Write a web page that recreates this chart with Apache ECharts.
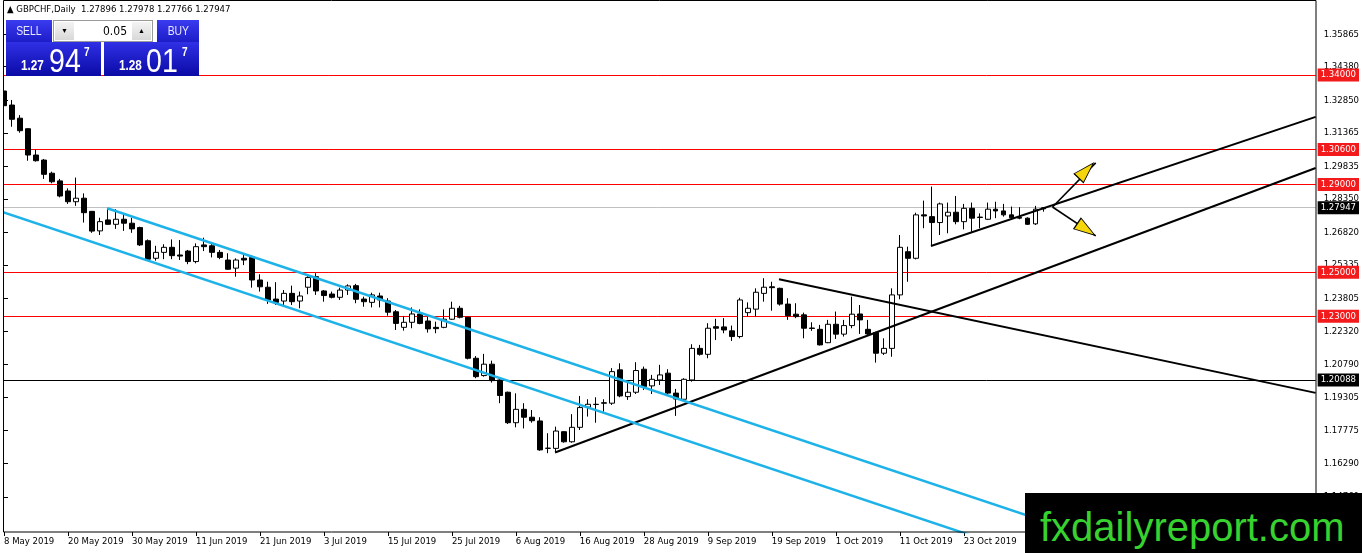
<!DOCTYPE html>
<html>
<head>
<meta charset="utf-8">
<script src="https://cdn.jsdelivr.net/npm/echarts@6.0.0/dist/echarts.min.js"></script>
<style>
  html, body { margin: 0; padding: 0; background: #fff; }
  #wrap { position: relative; width: 1362px; height: 553px; overflow: hidden; }
  #chart { position: absolute; left: 0; top: 0; width: 1362px; height: 553px; }
  .ov { position: absolute; font-family: "Liberation Sans", Arial, sans-serif; white-space: nowrap; }
  .nar { display: inline-block; transform: scaleX(0.8); transform-origin: 50% 0; }
  #head { left: 7px; top: 3px; font: 9.5px "DejaVu Sans Condensed", "DejaVu Sans", sans-serif; color: #000; line-height: 12px; }
  .btn { background: linear-gradient(#3b3bf0, #1c1cc8); color: #e8e8ff; font-size: 13px; text-align: center; line-height: 22px; height: 22px; top: 20px; }
  .price { top: 42px; width: 95px; height: 34px; background: linear-gradient(#3030e6, #0a0aa6); color: #fff; }
  .price span { position: absolute; line-height: 1; transform: scaleX(0.84); transform-origin: 0 0; }
  .lot { left: 53px; top: 20px; width: 100px; height: 22px; background: #fff; border: 1px solid #9a9a9a; box-sizing: border-box; }
  .arr { position: absolute; top: 1px; width: 19px; height: 18px; background: linear-gradient(#f4f4f4, #d8d8d8); font-size: 7px; text-align: center; line-height: 18px; color: #000; }
  #wm { left: 1025px; top: 493px; width: 337px; height: 60px; background: #000; }
  #wm span { position: absolute; left: 15px; top: 14px; font: 40px "Liberation Sans", Arial, sans-serif; line-height: 40px; color: #37d22f; }
</style>
</head>
<body>
<div id="wrap">
  <div id="chart"></div>
  <div class="ov" id="head">&#9650; GBPCHF,Daily&nbsp; 1.27896 1.27978 1.27766 1.27947</div>
  <div class="ov btn" style="left:6px;width:46px;"><span class="nar">SELL</span></div>
  <div class="ov lot">
    <div class="arr" style="left:1px;">&#9660;</div>
    <span style="position:absolute;right:25px;top:3px;font:12px 'DejaVu Sans Condensed','DejaVu Sans',sans-serif;">0.05</span>
    <div class="arr" style="right:1px;">&#9650;</div>
  </div>
  <div class="ov btn" style="left:157px;width:42px;"><span class="nar">BUY</span></div>
  <div class="ov price" style="left:6px;">
    <span style="left:15px;top:16px;font-size:14px;font-weight:bold;">1.27</span>
    <span style="left:43px;top:1px;font-size:34px;">94</span>
    <span style="left:78px;top:4px;font-size:12px;font-weight:bold;">7</span>
  </div>
  <div class="ov price" style="left:104px;">
    <span style="left:15px;top:16px;font-size:14px;font-weight:bold;">1.28</span>
    <span style="left:42px;top:1px;font-size:34px;">01</span>
    <span style="left:78px;top:4px;font-size:12px;font-weight:bold;">7</span>
  </div>
  <div class="ov" id="wm"><span>fxdailyreport.com</span></div>
</div>
<script>
// GBPCHF daily, one value per bar (index 0 = 8 May 2019)
var opens = [1.3327,1.3263,1.3203,1.3155,1.3035,1.3012,1.2952,1.2917,1.2871,1.2822,
  1.2838,1.2778,1.2689,1.2739,1.2719,1.2742,1.2724,1.2704,1.2644,1.2564,
  1.2591,1.2614,1.2579,1.2597,1.2549,1.2625,1.2621,1.2591,1.2556,1.2519,
  1.2564,1.2568,1.2465,1.2432,1.2378,1.2369,1.2404,1.2369,1.2432,1.2480,
  1.2415,1.2401,1.2386,1.2419,1.2439,1.2378,1.2363,1.2392,1.2369,1.2320,
  1.2249,1.2272,1.2310,1.2278,1.2249,1.2249,1.2286,1.2336,1.2295,1.2108,
  1.2029,1.2081,1.2009,1.1953,1.1814,1.1875,1.1839,1.1822,1.1698,1.1697,
  1.1773,1.1727,1.1793,1.1885,1.1898,1.1905,1.1903,1.2055,1.1933,1.1953,
  1.2058,1.1982,1.2009,1.2040,1.1949,1.1921,1.2009,1.2153,1.2126,1.2252,
  1.2251,1.2233,1.2207,1.2316,1.2332,1.2404,1.2434,1.2427,1.2355,1.2309,
  1.2306,1.2246,1.2240,1.2179,1.2263,1.2218,1.2257,1.2310,1.2240,1.2225,
  1.2131,1.2153,1.2397,1.2594,1.2564,1.2762,1.2754,1.2727,1.2757,1.2774,
  1.2731,1.2792,1.2752,1.2742,1.2788,1.2780,1.2762,1.2751,1.2747,1.2721,
  1.27896];
var closes = [1.3260,1.3198,1.3146,1.3035,1.3009,1.2947,1.2913,1.2848,1.2822,1.2838,
  1.2772,1.2688,1.2731,1.2719,1.2742,1.2724,1.2698,1.2625,1.2560,1.2591,
  1.2614,1.2576,1.2574,1.2549,1.2617,1.2617,1.2591,1.2568,1.2514,1.2556,
  1.2556,1.2465,1.2434,1.2374,1.2363,1.2404,1.2366,1.2392,1.2476,1.2415,
  1.2394,1.2386,1.2419,1.2438,1.2377,1.2366,1.2397,1.2374,1.2318,1.2267,
  1.2272,1.2310,1.2267,1.2242,1.2243,1.2286,1.2336,1.2295,1.2108,1.2024,
  1.2081,1.2006,1.1938,1.1814,1.1875,1.1839,1.1823,1.1690,1.1697,1.1776,
  1.1727,1.1793,1.1883,1.1898,1.1897,1.1903,1.2047,1.1936,1.1953,1.2052,
  1.1979,1.2012,1.2032,1.1949,1.1922,1.2012,1.2153,1.2126,1.2245,1.2245,
  1.2237,1.2207,1.2374,1.2336,1.2409,1.2432,1.2430,1.2355,1.2302,1.2298,
  1.2245,1.2244,1.2169,1.2263,1.2218,1.2257,1.2309,1.2283,1.2219,1.2131,
  1.2153,1.2397,1.2614,1.2564,1.2762,1.2757,1.2727,1.2812,1.2774,1.2731,
  1.2792,1.2747,1.2750,1.2788,1.2780,1.2762,1.2749,1.2747,1.2719,1.2788,
  1.27947];
var lows = [1.3220,1.3164,1.3137,1.3009,1.3005,1.2926,1.2906,1.2842,1.2812,1.2803,
  1.2727,1.2680,1.2670,1.2716,1.2698,1.2689,1.2680,1.2620,1.2553,1.2553,
  1.2560,1.2560,1.2556,1.2537,1.2541,1.2597,1.2568,1.2560,1.2511,1.2480,
  1.2533,1.2430,1.2412,1.2356,1.2351,1.2343,1.2351,1.2336,1.2400,1.2397,
  1.2366,1.2381,1.2374,1.2397,1.2359,1.2343,1.2340,1.2340,1.2302,1.2237,
  1.2234,1.2245,1.2263,1.2225,1.2222,1.2245,1.2283,1.2290,1.2103,1.2017,
  1.2024,1.1997,1.1903,1.1808,1.1793,1.1788,1.1814,1.1686,1.1675,1.1678,
  1.1723,1.1723,1.1781,1.1842,1.1814,1.1864,1.1895,1.1930,1.1918,1.1945,
  1.1963,1.1945,1.1986,1.1941,1.1845,1.1918,1.2001,1.2120,1.2108,1.2191,
  1.2222,1.2187,1.2199,1.2298,1.2298,1.2366,1.2325,1.2348,1.2283,1.2291,
  1.2199,1.2233,1.2166,1.2177,1.2196,1.2207,1.2245,1.2219,1.2214,1.2088,
  1.2123,1.2115,1.2377,1.2457,1.2559,1.2701,1.2620,1.2670,1.2678,1.2719,
  1.2696,1.2685,1.2701,1.2739,1.2747,1.2754,1.2742,1.2742,1.2716,1.2716,
  1.27766];
var highs = [1.3336,1.3286,1.3217,1.3157,1.3061,1.3017,1.2959,1.2926,1.2883,1.2932,
  1.2860,1.2780,1.2749,1.2792,1.2788,1.2762,1.2749,1.2708,1.2650,1.2621,
  1.2628,1.2650,1.2647,1.2602,1.2632,1.2658,1.2632,1.2602,1.2587,1.2564,
  1.2582,1.2579,1.2491,1.2457,1.2455,1.2419,1.2439,1.2412,1.2488,1.2496,
  1.2419,1.2412,1.2430,1.2445,1.2447,1.2389,1.2407,1.2407,1.2382,1.2328,
  1.2301,1.2340,1.2331,1.2298,1.2275,1.2331,1.2366,1.2347,1.2298,1.2118,
  1.2128,1.2097,1.2017,1.1956,1.1948,1.1903,1.1872,1.1839,1.1766,1.1796,
  1.1776,1.1853,1.1936,1.1921,1.1930,1.1921,1.2063,1.2085,1.2002,1.2090,
  1.2070,1.2032,1.2078,1.2058,1.1968,1.2017,1.2172,1.2169,1.2268,1.2288,
  1.2291,1.2257,1.2384,1.2363,1.2427,1.2473,1.2457,1.2430,1.2382,1.2359,
  1.2316,1.2272,1.2260,1.2283,1.2321,1.2283,1.2389,1.2351,1.2283,1.2229,
  1.2199,1.2427,1.2670,1.2617,1.2772,1.2827,1.2891,1.2818,1.2818,1.2848,
  1.2812,1.2818,1.2769,1.2818,1.2822,1.2812,1.2800,1.2797,1.2751,1.2803,
  1.27978];

// x axis: bar slots (incl. empty chart shift) and date labels every 8 bars
var slotCount = 165;
var barsPerLabel = 8;
var tickLabels = ['8 May 2019','20 May 2019','30 May 2019','11 Jun 2019','21 Jun 2019','3 Jul 2019',
  '15 Jul 2019','25 Jul 2019','6 Aug 2019','16 Aug 2019','28 Aug 2019','9 Sep 2019',
  '19 Sep 2019','1 Oct 2019','11 Oct 2019','23 Oct 2019'];

// price scale
var priceTicks = [1.35865,1.34380,1.32850,1.31365,1.29835,1.28350,1.26820,1.25335,
  1.23805,1.22320,1.20790,1.19305,1.17775,1.16290,1.14760];
var priceTop = 1.37421, priceBottom = 1.13155;

// horizontal levels
var redLevels = [1.34000, 1.30600, 1.29000, 1.25000, 1.23000];
var blackLevel = 1.20088;
var bidLevel = 1.27947;

// drawn lines: [[barIndex, price], [barIndex, price]]
var blackTrends = [
  [[68.9, 1.1678], [164, 1.2976]],
  [[115.9, 1.2620], [164, 1.3209]],
  [[96.9, 1.2468], [164, 1.1950]]
];
var cyanTrends = [
  [[-0.5, 1.2779], [125, 1.1250]],
  [[12.9, 1.2792], [140, 1.1244]]
];
var arrowShafts = [
  [[131.1, 1.2798], [136.5, 1.2999]],
  [[131.1, 1.2798], [136.5, 1.2666]]
];
var arrowHeads = [[135.3, 1.2964, -44], [135.3, 1.2696, -124]];

var axFont = '"DejaVu Sans Condensed", "DejaVu Sans", sans-serif';

var categories = [];
for (var i = 0; i < slotCount; i++) categories.push(String(i));
var candles = opens.map(function (o, k) { return [o, closes[k], lows[k], highs[k]]; });

var series = [{
  type: 'candlestick', xAxisIndex: 0, data: candles, barWidth: 5, z: 3,
  itemStyle: { color: '#fff', color0: '#000', borderColor: '#000', borderColor0: '#000', borderWidth: 1 }
}];

function levelLine(v, lineColor, boxColor) {
  return [{ coord: [-0.5, v], name: v.toFixed(5),
      lineStyle: { color: lineColor, width: 1, type: 'solid' },
      label: { show: true, position: 'end', formatter: '{b}', distance: 2, color: '#fff',
        backgroundColor: boxColor, padding: [2, 3, 1, 3], fontSize: 9.5, fontFamily: axFont, lineHeight: 10 } },
    { coord: [164, v] }];
}
var levelData = redLevels.map(function (v) { return levelLine(v, '#ff0000', '#f21a1a'); });
levelData.push(levelLine(bidLevel, '#c0c0c0', '#000'));
levelData.push(levelLine(blackLevel, '#000', '#000'));

blackTrends.forEach(function (seg, k) {
  var s = { type: 'line', xAxisIndex: 1, data: seg, symbol: 'none', clip: true, z: 4,
    lineStyle: { color: '#000', width: 2 } };
  if (k === 0) s.markLine = { symbol: ['none', 'none'], silent: true, animation: false, data: levelData, z: 2 };
  series.push(s);
});
cyanTrends.forEach(function (seg) {
  series.push({ type: 'line', xAxisIndex: 1, data: seg, symbol: 'none', clip: true, z: 4,
    lineStyle: { color: '#1eb3e8', width: 2.5 } });
});
arrowShafts.forEach(function (seg) {
  series.push({ type: 'line', xAxisIndex: 1, data: seg, symbol: 'none', z: 5,
    lineStyle: { color: '#000', width: 1.6 } });
});
series.push({ type: 'scatter', xAxisIndex: 1, z: 6, symbol: 'triangle', symbolSize: [13, 21],
  data: arrowHeads.map(function (h) { return { value: [h[0], h[1]], symbolRotate: h[2] }; }),
  itemStyle: { color: '#f5d60a', borderColor: '#000', borderWidth: 1, opacity: 1 } });

var chart = echarts.init(document.getElementById('chart'));
chart.setOption({
  animation: false,
  grid: { left: 0, right: 42, top: 0, bottom: 21 },
  xAxis: [{
    type: 'category', data: categories, boundaryGap: true,
    axisLine: { show: false },
    axisTick: { show: true, interval: barsPerLabel - 1, alignWithLabel: true, length: 4, lineStyle: { color: '#000' } },
    axisLabel: { interval: barsPerLabel - 1, align: 'left', margin: 5, color: '#000', fontSize: 9.5, fontFamily: axFont,
      formatter: function (v, idx) { return tickLabels[idx / barsPerLabel] || ''; } },
    splitLine: { show: false }
  }, {
    type: 'value', min: -0.5, max: slotCount - 0.5, show: false
  }],
  yAxis: {
    type: 'value', position: 'right', offset: -4, min: priceBottom, max: priceTop,
    axisLine: { show: false },
    axisTick: { show: true, length: 4, customValues: priceTicks, lineStyle: { color: '#000' } },
    axisLabel: { customValues: priceTicks, margin: 8, color: '#000', fontSize: 9.5, fontFamily: axFont,
      formatter: function (v) { return v.toFixed(5); } },
    splitLine: { show: false }
  },
  graphic: [
    { type: 'rect', z: 99, shape: { x: 0, y: 0, width: 3, height: 532 }, style: { fill: '#fff' } },
    { type: 'rect', z: 100, shape: { x: 3.5, y: 0.5, width: 1312.5, height: 531.5 }, style: { fill: null, stroke: '#000', lineWidth: 1 } }
  ],
  series: series
});
</script>
</body>
</html>
